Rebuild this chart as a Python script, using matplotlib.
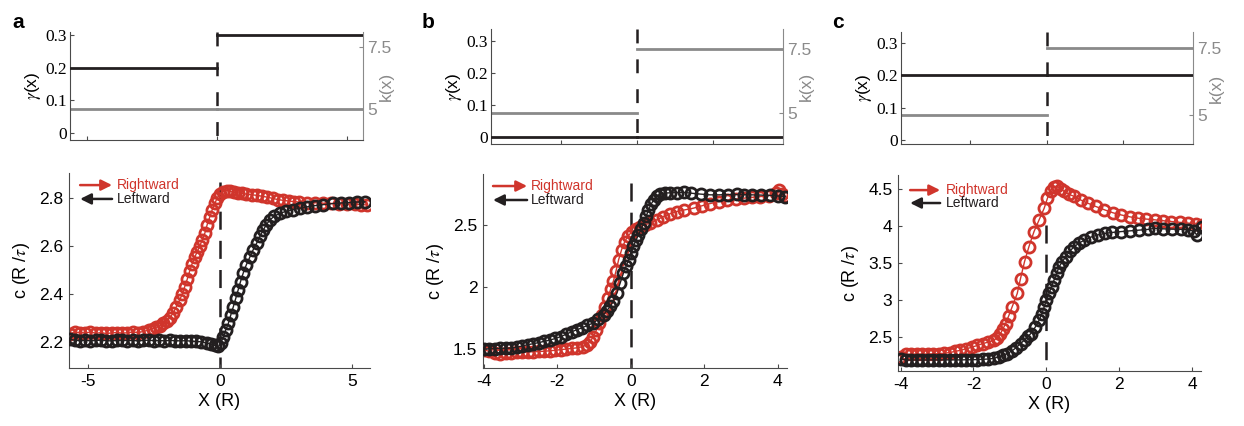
import matplotlib
matplotlib.use('Agg')
import matplotlib.pyplot as plt
import numpy as np

plt.rcParams['font.family'] = ['Liberation Sans', 'DejaVu Sans']
plt.rcParams['mathtext.fontset'] = 'stix'
plt.rcParams['lines.scale_dashes'] = False

RED = '#d0352c'
BLACK = '#231f20'
GRAY = '#8a8a8a'
SPINE = '#4a4a4a'

# ---- top panels: step profiles gamma(x) and k(x) on each side of x=0
gamma_left = [0.2, 0.0, 0.2]
gamma_right = [0.3, 0.0, 0.2]
k_left = [5.0, 5.0, 5.0]
k_right = [5.0, 7.5, 7.5]

# ---- bottom panels: front speed c vs position X
a_right_x = [-5.68, -5.5, -5.3, -5.1, -4.9, -4.7, -4.5, -4.3, -4.1, -3.9, -3.7, -3.5, -3.3, -3.1, -2.9, -2.7,
             -2.55, -2.4, -2.27, -2.15, -2.02, -1.9, -1.77, -1.65, -1.52, -1.42, -1.33, -1.23, -1.14, -1.05,
             -0.95, -0.86, -0.76, -0.67, -0.57, -0.48, -0.38, -0.29, -0.19, -0.1, 0.0, 0.1, 0.25, 0.4, 0.55,
             0.7, 0.85, 1.0, 1.2, 1.4, 1.6, 1.8, 2.0, 2.2, 2.4, 2.6, 2.8, 3.0, 3.3, 3.6, 3.9, 4.2, 4.5, 4.8,
             5.1, 5.35, 5.56]
a_right_c = [2.232, 2.24, 2.238, 2.236, 2.24, 2.235, 2.237, 2.234, 2.236, 2.238, 2.235, 2.237, 2.24, 2.238, 2.242, 2.248,
             2.254, 2.26, 2.266, 2.276, 2.285, 2.30, 2.318, 2.345, 2.374, 2.40, 2.429, 2.462, 2.495, 2.525,
             2.552, 2.575, 2.598, 2.625, 2.652, 2.688, 2.72, 2.75, 2.776, 2.80, 2.815, 2.825, 2.83, 2.826, 2.822,
             2.82, 2.818, 2.815, 2.812, 2.81, 2.806, 2.802, 2.797, 2.792, 2.789, 2.786, 2.784, 2.782, 2.78, 2.779,
             2.777, 2.776, 2.774, 2.773, 2.772, 2.771, 2.77]
a_left_x = [-5.68, -5.5, -5.3, -5.1, -4.9, -4.7, -4.5, -4.3, -4.1, -3.9, -3.7, -3.5, -3.3, -3.1, -2.9, -2.7,
            -2.5, -2.3, -2.1, -1.9, -1.7, -1.5, -1.3, -1.1, -0.9, -0.7, -0.5, -0.35, -0.2, -0.06, 0.04, 0.13,
            0.22, 0.32, 0.41, 0.51, 0.6, 0.69, 0.78, 0.88, 1.0, 1.14, 1.26, 1.39, 1.52, 1.64, 1.76, 1.89, 2.05,
            2.27, 2.5, 2.75, 3.03, 3.3, 3.6, 3.9, 4.29, 4.6, 4.9, 5.2, 5.49]
a_left_c = [2.21, 2.206, 2.204, 2.206, 2.203, 2.205, 2.206, 2.204, 2.203, 2.205, 2.206, 2.204, 2.205, 2.203, 2.205, 2.206,
            2.204, 2.205, 2.203, 2.205, 2.204, 2.203, 2.204, 2.202, 2.201, 2.199, 2.195, 2.19, 2.184, 2.18, 2.195, 2.22,
            2.248, 2.276, 2.31, 2.346, 2.38, 2.415, 2.45, 2.485, 2.52, 2.554, 2.583, 2.61, 2.64, 2.665, 2.688, 2.707, 2.722,
            2.735, 2.743, 2.75, 2.756, 2.762, 2.767, 2.771, 2.776, 2.778, 2.78, 2.782, 2.783]

b_right_x = [-4.0, -3.85, -3.7, -3.55, -3.4, -3.25, -3.1, -2.95, -2.8, -2.65, -2.5, -2.35, -2.2, -2.05, -1.9, -1.75,
             -1.6, -1.45, -1.3, -1.2, -1.1, -1.02, -0.94, -0.86, -0.78, -0.7, -0.62, -0.55, -0.47, -0.4, -0.33,
             -0.25, -0.17, -0.08, 0.02, 0.13, 0.25, 0.38, 0.53, 0.7, 0.89, 1.07, 1.25, 1.45, 1.71, 1.95, 2.16,
             2.4, 2.62, 2.85, 3.07, 3.3, 3.52, 3.75, 3.95, 4.02, 4.12, 4.2]
b_right_c = [1.495, 1.48, 1.47, 1.462, 1.465, 1.47, 1.472, 1.474, 1.476, 1.478, 1.48, 1.482, 1.486, 1.49, 1.495, 1.5,
             1.505, 1.51, 1.52, 1.535, 1.56, 1.6, 1.65, 1.71, 1.77, 1.84, 1.91, 1.98, 2.05, 2.13, 2.22,
             2.3, 2.36, 2.41, 2.44, 2.465, 2.485, 2.5, 2.515, 2.54, 2.567, 2.59, 2.607, 2.62, 2.635, 2.655, 2.672,
             2.688, 2.70, 2.708, 2.715, 2.722, 2.728, 2.735, 2.76, 2.78, 2.745, 2.733]
b_left_x = [-4.0, -3.85, -3.7, -3.55, -3.4, -3.25, -3.1, -2.95, -2.8, -2.65, -2.5, -2.35, -2.2, -2.05, -1.9, -1.75,
            -1.6, -1.47, -1.33, -1.18, -1.02, -0.88, -0.74, -0.65, -0.56, -0.47, -0.38, -0.29, -0.2, -0.13, -0.06,
            0.0, 0.07, 0.14, 0.21, 0.28, 0.35, 0.42, 0.48, 0.55, 0.62, 0.7, 0.8, 0.93, 1.07, 1.25, 1.44, 1.65,
            1.9, 2.16, 2.4, 2.65, 2.9, 3.07, 3.3, 3.55, 3.8, 4.0, 4.2]
b_left_c = [1.50, 1.502, 1.504, 1.505, 1.506, 1.508, 1.514, 1.525, 1.535, 1.543, 1.552, 1.562, 1.572, 1.585, 1.60, 1.62,
            1.64, 1.655, 1.67, 1.69, 1.71, 1.74, 1.776, 1.81, 1.843, 1.89, 1.95, 2.03, 2.111, 2.165, 2.218,
            2.27, 2.326, 2.375, 2.42, 2.465, 2.513, 2.57, 2.62, 2.665, 2.70, 2.73, 2.75, 2.757, 2.758, 2.76, 2.762, 2.755,
            2.748, 2.742, 2.742, 2.744, 2.745, 2.743, 2.742, 2.74, 2.737, 2.733, 2.728]

c_right_x = [-4.0, -3.85, -3.7, -3.55, -3.4, -3.25, -3.1, -2.95, -2.8, -2.65, -2.5, -2.36, -2.2, -2.05, -1.9, -1.75,
             -1.6, -1.44, -1.35, -1.26, -1.19, -1.12, -1.03, -0.94, -0.8, -0.71, -0.6, -0.48, -0.34, -0.2, -0.06,
             0.03, 0.12, 0.2, 0.3, 0.4, 0.49, 0.62, 0.76, 0.95, 1.13, 1.35, 1.59, 1.82, 2.05, 2.28, 2.51, 2.74,
             2.97, 3.2, 3.43, 3.66, 3.89, 4.1, 4.26]
c_right_c = [2.23, 2.265, 2.27, 2.27, 2.27, 2.27, 2.272, 2.275, 2.28, 2.29, 2.305, 2.32, 2.34, 2.36, 2.385, 2.41,
             2.43, 2.455, 2.49, 2.545, 2.61, 2.68, 2.79, 2.907, 3.088, 3.29, 3.518, 3.72, 3.925, 4.084, 4.242,
             4.378, 4.48, 4.53, 4.536, 4.5, 4.468, 4.43, 4.4, 4.35, 4.31, 4.265, 4.22, 4.18, 4.15, 4.125, 4.106, 4.094,
             4.084, 4.072, 4.061, 4.05, 4.04, 4.028, 4.016]
c_left_x = [-4.0, -3.85, -3.7, -3.55, -3.4, -3.25, -3.1, -2.95, -2.8, -2.65, -2.5, -2.35, -2.2, -2.05, -1.9, -1.75,
            -1.6, -1.44, -1.3, -1.18, -1.08, -0.95, -0.83, -0.71, -0.6, -0.5, -0.43, -0.31, -0.2, -0.13, -0.06,
            0.0, 0.07, 0.14, 0.21, 0.28, 0.35, 0.44, 0.53, 0.64, 0.76, 0.9, 1.04, 1.22, 1.41, 1.6, 1.8, 2.05,
            2.3, 2.55, 2.8, 2.97, 3.2, 3.45, 3.7, 3.89, 4.05, 4.12, 4.26]
c_left_c = [2.206, 2.19, 2.188, 2.19, 2.188, 2.19, 2.19, 2.19, 2.19, 2.19, 2.19, 2.19, 2.192, 2.192, 2.195, 2.198,
            2.202, 2.21, 2.235, 2.255, 2.274, 2.31, 2.355, 2.41, 2.46, 2.51, 2.545, 2.63, 2.726, 2.81, 2.907,
            3.0, 3.088, 3.18, 3.27, 3.36, 3.45, 3.52, 3.586, 3.66, 3.72, 3.77, 3.81, 3.85, 3.88, 3.9, 3.913, 3.925,
            3.935, 3.945, 3.955, 3.97, 3.962, 3.958, 3.955, 3.948, 3.93, 3.88, 3.993]

right_x = [a_right_x, b_right_x, c_right_x]
right_c = [a_right_c, b_right_c, c_right_c]
left_x = [a_left_x, b_left_x, c_left_x]
left_c = [a_left_c, b_left_c, c_left_c]

letters = ['a', 'b', 'c']
top_xticks = [[-5, 0, 5], [-2, 0, 2], [-2, 0, 2]]
bot_xticks = [[-5, 0, 5], [-4, -2, 0, 2, 4], [-4, -2, 0, 2, 4]]
bot_yticks = [[2.2, 2.4, 2.6, 2.8], [1.5, 2, 2.5], [2.5, 3, 3.5, 4, 4.5]]
bot_yticklabels = [['2.2', '2.4', '2.6', '2.8'], ['1.5', '2', '2.5'], ['2.5', '3', '3.5', '4', '4.5']]

# layout (figure fractions)
W, H = 1244, 426
def rect(x0, x1, y0, y1):
    return [x0 / W, 1 - y1 / H, (x1 - x0) / W, (y1 - y0) / H]

top_rects = [rect(70, 363, 32, 140), rect(491, 783, 29, 144), rect(901, 1193, 32, 144)]
bot_rects = [rect(69, 370, 173, 368), rect(483, 787, 174, 368), rect(898, 1201, 175, 371)]
top_xlim = [(-5.65, 5.62), (-3.83, 3.83), (-3.81, 3.83)]
top_glim = [(-0.022, 0.31), (-0.023, 0.337), (-0.012, 0.334)]
top_klim = [(3.75, 8.1), (3.8, 8.29), (3.92, 8.09)]
bot_xlim = [(-5.71, 5.68), (-4.02, 4.25), (-4.07, 4.24)]
bot_ylim = [(2.09, 2.903), (1.347, 2.91), (2.04, 4.69)]
dash_top = [2.865, 2.84, 4.02]
legend_pos = [(0.037, 0.143, 0.159, 0.938, 0.867),
              (0.033, 0.145, 0.158, 0.938, 0.866),
              (0.040, 0.139, 0.158, 0.923, 0.857)]
letter_pos = [(12, 22), (422, 22), (832, 22)]

fig = plt.figure(figsize=(12.44, 4.26), dpi=100)

for i in range(3):
    # ---------- top panel
    ax = fig.add_axes(top_rects[i])
    ax2 = ax.twinx()
    ax.set_xlim(*top_xlim[i])
    ax.set_ylim(*top_glim[i])
    ax2.set_ylim(*top_klim[i])
    x0, x1 = top_xlim[i]
    ax2.plot([x0, 0], [k_left[i], k_left[i]], color=GRAY, lw=2.0)
    ax2.plot([0, x1], [k_right[i], k_right[i]], color=GRAY, lw=2.0)
    ax.plot([x0, 0], [gamma_left[i], gamma_left[i]], color=BLACK, lw=2.0, zorder=3)
    ax.plot([0, x1], [gamma_right[i], gamma_right[i]], color=BLACK, lw=2.0, zorder=3)
    # dashes start at the top edge
    ax.plot([0, 0], [top_glim[i][1], top_glim[i][0]], color=BLACK, lw=1.8, dashes=(10, 11.5), zorder=4)
    ax.set_zorder(ax2.get_zorder() + 1)
    ax.patch.set_visible(False)

    ax.set_xticks(top_xticks[i])
    ax.set_xticklabels([])
    ax.set_yticks([0, 0.1, 0.2, 0.3])
    ax.set_yticklabels(['0', '0.1', '0.2', '0.3'], family='Liberation Serif', fontsize=12.5)
    ax.tick_params(direction='in', length=3, color=SPINE, pad=2)
    ax.set_ylabel(r'$\gamma$(x)', fontsize=12.5, labelpad=2)
    ax2.set_yticks([5, 7.5])
    ax2.set_yticklabels(['5', '7.5'], fontsize=12.5, color=GRAY)
    ax2.tick_params(direction='in', length=3, color=GRAY, pad=3)
    ax2.set_ylabel('k(x)', fontsize=12.5, color=GRAY, labelpad=-9)
    for a in (ax, ax2):
        a.spines['top'].set_visible(False)
    ax.spines['right'].set_visible(False)
    ax.spines['left'].set_color(SPINE)
    ax.spines['bottom'].set_color(SPINE)
    ax2.spines['right'].set_color(GRAY)
    ax2.spines['left'].set_visible(False)
    ax2.spines['bottom'].set_visible(False)

    fig.text(letter_pos[i][0] / W, 1 - letter_pos[i][1] / H, letters[i],
             fontsize=15, fontweight='bold', va='center', ha='left')

    # ---------- bottom panel
    bx = fig.add_axes(bot_rects[i])
    bx.set_xlim(*bot_xlim[i])
    bx.set_ylim(*bot_ylim[i])
    bx.plot([0, 0], [dash_top[i], bot_ylim[i][0]], color=BLACK, lw=1.8, dashes=(13, 8), zorder=1)
    bx.plot(right_x[i], right_c[i], '-o', color=RED, mfc='none', mec=RED, ms=8, mew=2.0, lw=1.0, zorder=2)
    bx.plot(left_x[i], left_c[i], '-o', color=BLACK, mfc='none', mec=BLACK, ms=8, mew=2.0, lw=1.0, zorder=3)

    bx.set_xticks(bot_xticks[i])
    bx.set_xticklabels([str(t) for t in bot_xticks[i]], fontsize=12.5)
    bx.set_yticks(bot_yticks[i])
    bx.set_yticklabels(bot_yticklabels[i], fontsize=12.5)
    bx.tick_params(direction='in', length=3, color=SPINE, pad=4)
    bx.set_xlabel('X (R)', fontsize=13, labelpad=3)
    bx.set_ylabel(r'c (R /$\tau$)', fontsize=13, labelpad=5)
    bx.spines['top'].set_visible(False)
    bx.spines['right'].set_visible(False)
    bx.spines['left'].set_color(SPINE)
    bx.spines['bottom'].set_color(SPINE)

    ax0, ax1, tx, yr, yl = legend_pos[i]
    bx.annotate('', xy=(ax1, yr), xytext=(ax0, yr), xycoords='axes fraction',
                arrowprops=dict(arrowstyle='-|>', color=RED, lw=1.8, mutation_scale=16, shrinkA=0, shrinkB=0))
    bx.annotate('', xy=(ax0, yl), xytext=(ax1, yl), xycoords='axes fraction',
                arrowprops=dict(arrowstyle='-|>', color=BLACK, lw=1.8, mutation_scale=16, shrinkA=0, shrinkB=0))
    bx.text(tx, yr, 'Rightward', transform=bx.transAxes, color=RED, fontsize=10, va='center', ha='left')
    bx.text(tx, yl, 'Leftward', transform=bx.transAxes, color=BLACK, fontsize=10, va='center', ha='left')

fig.savefig('out.png', dpi=100)
